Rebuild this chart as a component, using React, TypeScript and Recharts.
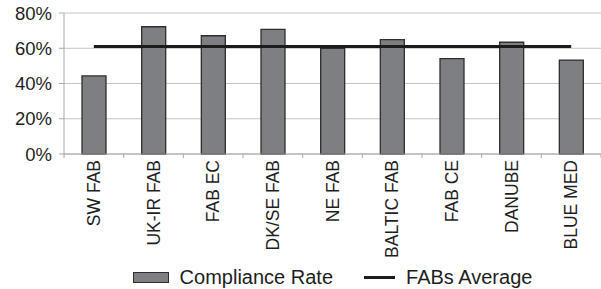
import React from 'react';
import { ComposedChart, CartesianGrid, XAxis, YAxis, Bar, Line, Legend } from 'recharts';

const categories = ['SW FAB', 'UK-IR FAB', 'FAB EC', 'DK/SE FAB', 'NE FAB', 'BALTIC FAB', 'FAB CE', 'DANUBE', 'BLUE MED'];
const complianceRate = [44.3, 72.2, 67.1, 70.7, 60.0, 64.9, 54.1, 63.4, 53.3];
const fabsAverage = [61.0, 61.0, 61.0, 61.0, 61.0, 61.0, 61.0, 61.0, 61.0];
const yTicks = [0, 20, 40, 60, 80];

const data = categories.map((name, i) => ({
    name,
    'Compliance Rate': complianceRate[i],
    'FABs Average': fabsAverage[i],
}));

const FONT = '"Liberation Sans", Arial, sans-serif';
const TEXT_COLOR = '#1e1e1e';
const AXIS_COLOR = '#a8a8a8';
const BAR_FILL = '#7e7f82';
const BAR_STROKE = '#2e2e2e';
const LINE_COLOR = '#1c1c1c';

const CategoryTick = (props: any) => {
    const { x, y, payload, index } = props;
    const half = payload?.offset ?? 0;
    return (
        <g>
            <line x1={x - half} y1={y - 6} x2={x - half} y2={y - 2} stroke={AXIS_COLOR} />
            {index === categories.length - 1 && (
                <line x1={x + half} y1={y - 6} x2={x + half} y2={y - 2} stroke={AXIS_COLOR} />
            )}
            <text
                transform={`translate(${x},${y}) rotate(-90)`}
                textAnchor="end"
                dy="0.36em"
                fill={TEXT_COLOR}
                fontSize={17.5}
                fontFamily={FONT}
            >
                {payload.value}
            </text>
        </g>
    );
};

const LegendContent = () => (
    <div style={{ display: 'flex', alignItems: 'center', justifyContent: 'center', height: 24, fontFamily: FONT, fontSize: 20, color: TEXT_COLOR }}>
        <span style={{ display: 'inline-block', width: 34, height: 9, background: BAR_FILL, border: `1px solid ${BAR_STROKE}`, marginRight: 11 }} />
        <span style={{ marginRight: 31 }}>Compliance Rate</span>
        <span style={{ display: 'inline-block', width: 31, height: 3, background: LINE_COLOR, marginRight: 11 }} />
        <span>FABs Average</span>
    </div>
);

export default function App() {
    return (
        <div style={{ position: 'absolute', left: 0, top: 0, width: 601, height: 289, background: '#fff' }}>
            <ComposedChart width={601} height={289} data={data} margin={{ top: 13, right: 0, left: 0, bottom: 0 }}>
                <CartesianGrid vertical={false} stroke="#c4c4c4" />
                <XAxis
                    dataKey="name"
                    interval={0}
                    height={111}
                    tickLine={false}
                    axisLine={{ stroke: AXIS_COLOR }}
                    tick={<CategoryTick />}
                    tickMargin={0}
                />
                <YAxis
                    width={64}
                    domain={[0, 80]}
                    ticks={yTicks}
                    tickFormatter={(v: number) => `${v}%`}
                    tickSize={5}
                    tickMargin={7}
                    axisLine={{ stroke: AXIS_COLOR }}
                    tickLine={{ stroke: AXIS_COLOR }}
                    tick={{ fill: TEXT_COLOR, fontSize: 18.5, fontFamily: FONT }}
                />
                <Legend
                    verticalAlign="bottom"
                    content={<LegendContent />}
                    wrapperStyle={{ left: 64, width: 537, bottom: 0 }}
                />
                <Bar
                    dataKey="Compliance Rate"
                    fill={BAR_FILL}
                    stroke={BAR_STROKE}
                    strokeWidth={1.3}
                    barSize={24}
                    isAnimationActive={false}
                />
                <Line
                    dataKey="FABs Average"
                    stroke={LINE_COLOR}
                    strokeWidth={3}
                    dot={false}
                    activeDot={false}
                    isAnimationActive={false}
                />
            </ComposedChart>
        </div>
    );
}
